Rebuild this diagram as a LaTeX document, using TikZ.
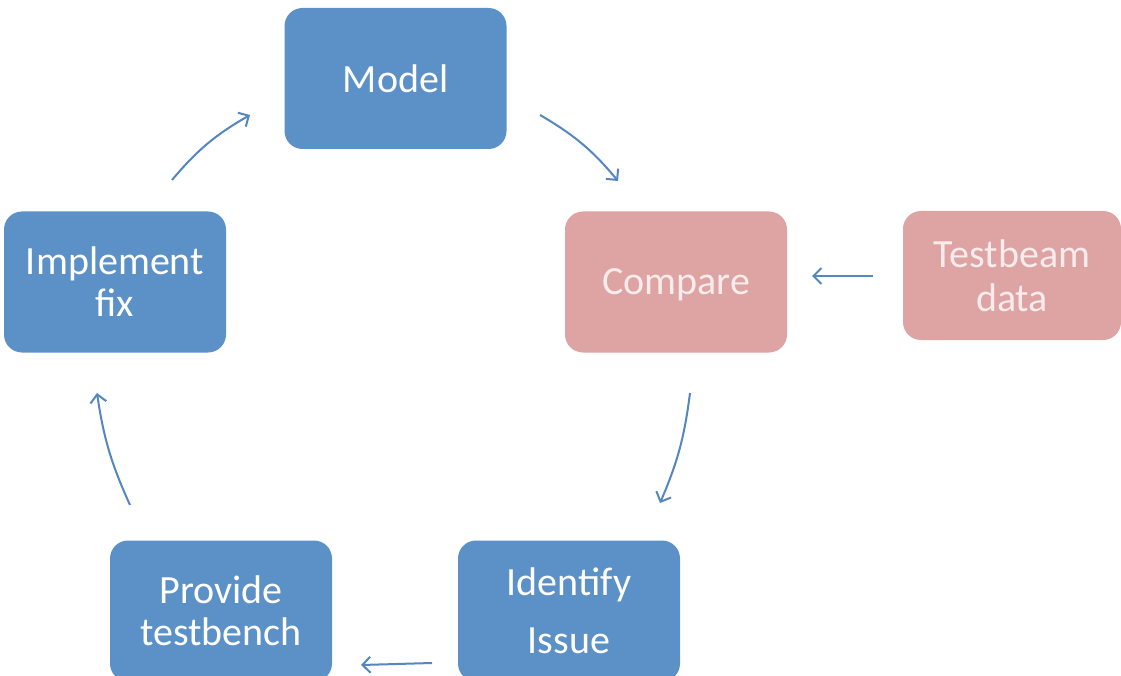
\documentclass[tikz,border=0pt]{standalone}
\usepackage{fontspec}
\setmainfont{Carlito}
\usetikzlibrary{arrows.meta}
\definecolor{boxblue}{RGB}{92,145,200}
\definecolor{boxpink}{RGB}{222,163,163}
\definecolor{arrowblue}{RGB}{84,134,192}
\definecolor{pinktext}{RGB}{250,236,236}
\tikzset{
  box/.style={rectangle, rounded corners=18pt, minimum width=222pt, minimum height=141pt,
    inner sep=0pt, align=center, font=\fontsize{40}{42}\selectfont},
  bluebox/.style={box, fill=boxblue, text=white},
  pinkbox/.style={box, fill=boxpink, text=pinktext},
  flow/.style={draw=arrowblue, line width=2pt, -{Straight Barb[length=8pt,width=16pt,line width=2pt]}}
}
\begin{document}
\begin{tikzpicture}[x=1pt,y=1pt]
\clip (0,0) rectangle (1121,-676);
\fill[white] (0,0) rectangle (1121,-676);
\node[bluebox] (model) at (395.5,-78.5) {Model};
\node[pinkbox, text depth=-6pt] (compare) at (676,-282) {Compare};
\node[pinkbox, minimum width=218pt, minimum height=129pt] (testbeam) at (1012,-275.5) {Testbeam\\[2pt]data};
\node[bluebox] (implement) at (115,-282) {Implement\\fix};
\node[bluebox] (provide) at (221,-611) {Provide\\testbench};
\node[bluebox] (identify) at (569,-611) {Identify\\[16pt]Issue};
\coordinate (a1s) at (540,-115); \coordinate (a1e) at (618,-181);
\coordinate (a2s) at (873,-276); \coordinate (a2e) at (812,-276);
\coordinate (a3s) at (690,-393); \coordinate (a3e) at (660,-503);
\coordinate (a4s) at (432,-663); \coordinate (a4e) at (361,-665);
\coordinate (a5s) at (130,-505); \coordinate (a5e) at (97,-393);
\coordinate (a6s) at (172,-180); \coordinate (a6e) at (250,-115);
\draw[flow] (a1s) to[bend left=10] (a1e);
\draw[flow] (a2s) -- (a2e);
\draw[flow] (a3s) to[bend left=8] (a3e);
\draw[flow] (a4s) -- (a4e);
\draw[flow] (a5s) to[bend left=8] (a5e);
\draw[flow] (a6s) to[bend left=10] (a6e);
\end{tikzpicture}
\end{document}
